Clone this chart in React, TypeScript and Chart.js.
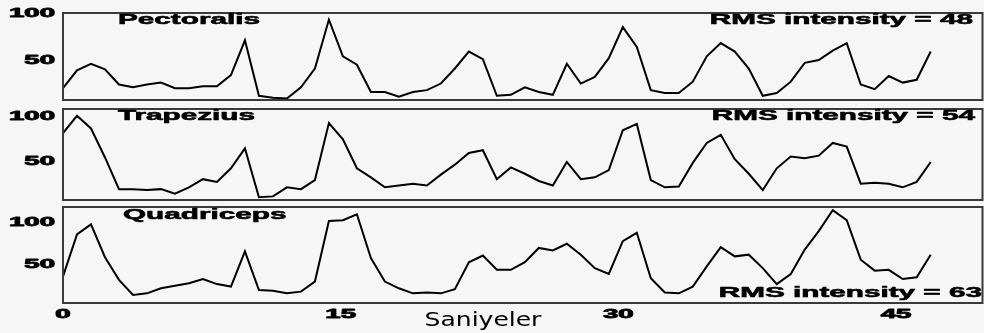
import { useEffect, useRef } from "react";
import { Chart, registerables } from "chart.js";

Chart.register(...registerables);

// ---- data ----
const SAMPLE_SEC = 0.756; // seconds between samples
const X_TICK_VALUES = [0, 15, 30, 45];
const X_TICK_LABELS = ["0", "15", "30", "45"];
const Y_TICK_VALUES = [50, 100];
const Y_TICK_LABELS = ["50", "100"];
const X_TITLE = "Saniyeler";

const MUSCLES = ["Pectoralis", "Trapezius", "Quadriceps"];
const RMS_VALUES = [48, 54, 63];

const PECTORALIS = [
  21, 40, 47, 41, 25, 22, 25, 27, 21, 21,
  23, 23, 35, 72, 13, 11, 10, 22, 42, 94,
  55, 46, 17, 17, 12, 17, 19, 26, 42, 60,
  52, 13, 14, 22, 17, 14, 47, 26, 33, 53,
  86, 65, 19, 16, 16, 28, 55, 69, 60, 42,
  13, 16, 28, 48, 51, 61, 69, 25, 20, 34,
  27, 30, 60,
];
const TRAPEZIUS = [
  82, 101, 87, 55, 20, 20, 19, 20, 15, 22,
  31, 28, 43, 65, 11, 12, 22, 20, 30, 93,
  75, 43, 33, 22, 24, 26, 24, 36, 47, 60,
  63, 31, 44, 37, 29, 24, 50, 31, 33, 41,
  85, 92, 30, 22, 23, 49, 71, 80, 53, 37,
  19, 43, 56, 54, 57, 71, 67, 26, 27, 26,
  22, 28, 50,
];
const QUADRICEPS = [
  36, 86, 98, 59, 32, 14, 16, 22, 25, 28,
  33, 27, 24, 66, 20, 19, 16, 18, 30, 102,
  103, 110, 58, 30, 22, 16, 17, 16, 21, 53,
  61, 44, 44, 53, 70, 67, 75, 62, 46, 39,
  78, 88, 34, 17, 16, 24, 48, 71, 60, 62,
  46, 27, 39, 68, 90, 115, 103, 56, 43, 44,
  33, 35, 62,
];
const SERIES = [PECTORALIS, TRAPEZIUS, QUADRICEPS];

// ---- layout (not data) ----
const W = 984;
const X_MAX = 49.67;
type Panel = {
  top: number;
  height: number;
  padTop: number;
  padBottom: number;
  yMin: number;
  yMax: number;
  nameX: number;
  nameY: number;
  rmsRight: number;
  rmsY: number;
  withXAxis: boolean;
};
const PANELS: Panel[] = [
  { top: 0, height: 104, padTop: 13, padBottom: 4, yMin: 8.5, yMax: 101, nameX: 118, nameY: 7, rmsRight: 973, rmsY: 7, withXAxis: false },
  { top: 104, height: 100, padTop: 5, padBottom: 4, yMin: 8, yMax: 108.5, nameX: 118, nameY: 7, rmsRight: 975, rmsY: 7, withXAxis: false },
  { top: 204, height: 129, padTop: 3, padBottom: 30, yMin: 4.5, yMax: 118.7, nameX: 123, nameY: 8, rmsRight: 982, rmsY: 86, withXAxis: true },
];

function stretchedText(
  ctx: CanvasRenderingContext2D,
  text: string,
  x: number,
  y: number,
  align: "left" | "right" | "center",
  sx: number,
  font: string,
  heavy: number
) {
  ctx.save();
  ctx.font = font;
  ctx.textBaseline = "middle";
  ctx.textAlign = "left";
  const w = ctx.measureText(text).width * sx;
  const left = align === "right" ? x - w : align === "center" ? x - w / 2 : x;
  ctx.translate(left, y);
  ctx.scale(sx, 1);
  ctx.fillStyle = "#000";
  ctx.fillText(text, 0, 0);
  if (heavy > 0) {
    ctx.strokeStyle = "#000";
    ctx.lineWidth = heavy;
    ctx.lineJoin = "round";
    ctx.strokeText(text, 0, 0);
  }
  ctx.restore();
}

const TICK_FONT = "bold 12px 'Liberation Sans', Arial, sans-serif";
const LABEL_FONT = "bold 15px 'Liberation Sans', Arial, sans-serif";
const TITLE_FONT = "20px 'DejaVu Sans', sans-serif";

function makePlugin(idx: number) {
  const p = PANELS[idx];
  return {
    id: "panelDecor" + idx,
    afterDraw(chart: any) {
      const ctx: CanvasRenderingContext2D = chart.ctx;
      const a = chart.chartArea;
      const ys = chart.scales.y;
      const xs = chart.scales.x;
      // frame
      ctx.save();
      ctx.strokeStyle = "#3a3a3a";
      ctx.lineWidth = 2;
      ctx.strokeRect(a.left, a.top, a.right - a.left, a.bottom - a.top);
      ctx.restore();
      // y tick labels
      Y_TICK_VALUES.forEach((v, k) => {
        stretchedText(ctx, Y_TICK_LABELS[k], 55, ys.getPixelForValue(v), "right", 2.3, TICK_FONT, 0.8);
      });
      // panel name and RMS text
      stretchedText(ctx, MUSCLES[idx], p.nameX, a.top + p.nameY, "left", 1.98, LABEL_FONT, 0.6);
      stretchedText(ctx, "RMS intensity = " + RMS_VALUES[idx], p.rmsRight, a.top + p.rmsY, "right", 1.98, LABEL_FONT, 0.6);
      if (p.withXAxis) {
        X_TICK_VALUES.forEach((v, k) => {
          stretchedText(ctx, X_TICK_LABELS[k], xs.getPixelForValue(v), a.bottom + 12, "center", 2.3, TICK_FONT, 0.8);
        });
        stretchedText(ctx, X_TITLE, 483, a.bottom + 18, "center", 1.25, TITLE_FONT, 0);
      }
    },
  };
}

function PanelChart({ idx }: { idx: number }) {
  const ref = useRef<HTMLCanvasElement | null>(null);
  useEffect(() => {
    const p = PANELS[idx];
    const values = SERIES[idx];
    const chart = new Chart(ref.current as HTMLCanvasElement, {
      type: "line",
      data: {
        datasets: [
          {
            data: values.map((v, i) => ({ x: i * SAMPLE_SEC, y: v })),
            borderColor: "#000",
            borderWidth: 2,
            pointRadius: 0,
            tension: 0,
            fill: false,
          },
        ],
      },
      options: {
        animation: false,
        responsive: false,
        maintainAspectRatio: false,
        events: [],
        layout: { padding: { left: 63, right: 1.5, top: p.padTop, bottom: p.padBottom } },
        plugins: { legend: { display: false }, tooltip: { enabled: false } },
        scales: {
          x: { type: "linear", min: 0, max: X_MAX, display: false },
          y: { type: "linear", min: p.yMin, max: p.yMax, display: false },
        },
      },
      plugins: [makePlugin(idx)],
    } as any);
    return () => chart.destroy();
  }, [idx]);
  const p = PANELS[idx];
  return (
    <canvas
      ref={ref}
      width={W}
      height={p.height}
      style={{ position: "absolute", left: 0, top: p.top, width: W, height: p.height }}
    />
  );
}

export default function App() {
  return (
    <div
      style={{
        position: "fixed",
        left: 0,
        top: 0,
        width: W,
        height: 333,
        background: "#f6f6f6",
        overflow: "hidden",
      }}
    >
      {PANELS.map((_, i) => (
        <PanelChart key={i} idx={i} />
      ))}
    </div>
  );
}
